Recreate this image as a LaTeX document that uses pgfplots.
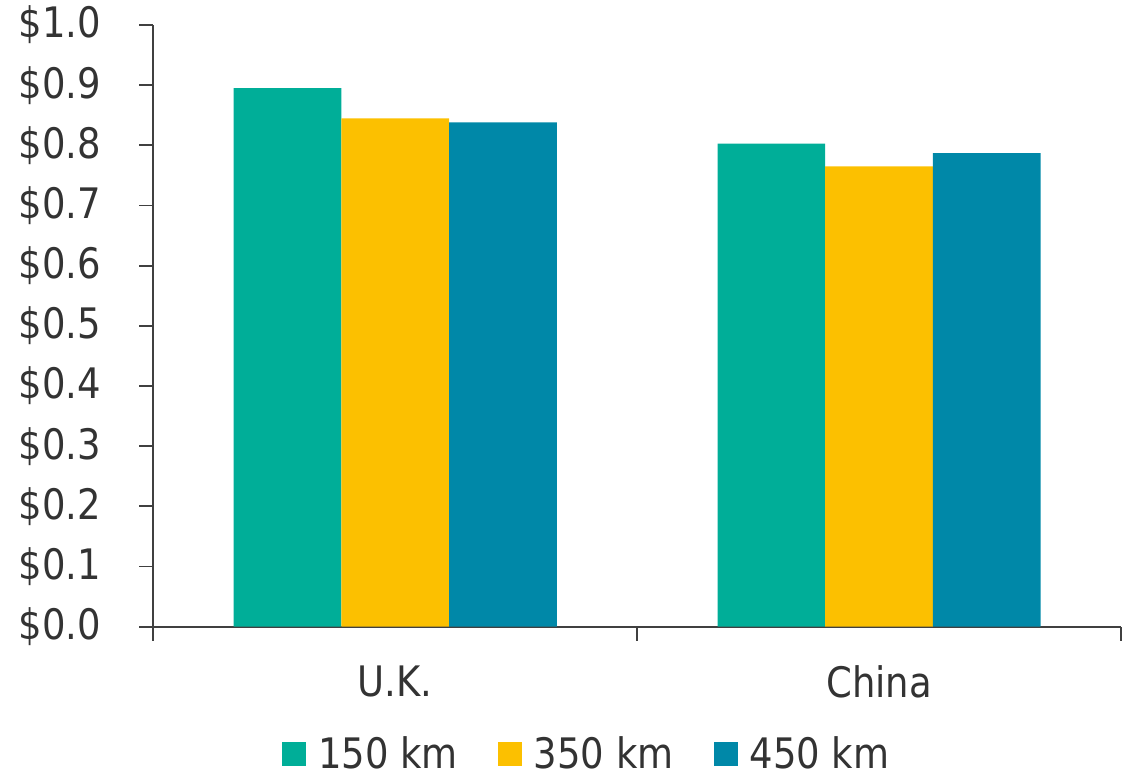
\documentclass[border=0pt]{standalone}
\usepackage{pgfplots}
\pgfplotsset{compat=1.18}
\usepackage{fontspec}
\setmainfont{DejaVu Sans}[FakeStretch=0.88]
\definecolor{cA}{HTML}{00AE98}
\definecolor{cB}{HTML}{FCC000}
\definecolor{cC}{HTML}{0088A8}
\definecolor{txt}{HTML}{333333}
\definecolor{axc}{HTML}{404040}
\newcommand{\chartfont}{\fontsize{21}{25}\selectfont}
\begin{document}
\begin{tikzpicture}
\path[use as bounding box] (-76.65pt,-75.15pt) rectangle (490.35pt,313.35pt);
\begin{axis}[
  at={(0pt,0pt)}, anchor=south west,
  scale only axis, width=483.85pt, height=300.85pt,
  xmin=-0.5, xmax=1.5, ymin=0, ymax=1,
  axis x line*=bottom, axis y line*=left,
  xtick={-0.5,0.5,1.5}, x tick label as interval, xticklabels={U.K.,China},
  ytick={0,0.1,0.2,0.3,0.4,0.5,0.6,0.7,0.8,0.9,1.0},
  yticklabels={\$0.0,\$0.1,\$0.2,\$0.3,\$0.4,\$0.5,\$0.6,\$0.7,\$0.8,\$0.9,\$1.0},
  tick align=outside, major tick length=7pt,
  tick style={axc, line width=0.9pt},
  axis line style={axc, line width=0.9pt},
  tick label style={font=\chartfont, text=txt},
  yticklabel style={xshift=-15.5pt},
  xticklabel style={yshift=-9pt},
  ybar=0pt, bar width=53.85pt,
  legend style={draw=none, legend columns=3, at={(0.449,-0.212)}, anchor=center,
    font=\chartfont, text=txt,
    /tikz/every odd column/.append style={column sep=4pt},
    /tikz/every even column/.append style={column sep=18pt}},
  legend image code/.code={\fill[#1] (0pt,-6pt) rectangle (12pt,6pt);},
]
\addplot[fill=cA, draw=none] coordinates {(0,0.895) (1,0.803)};
\addplot[fill=cB, draw=none] coordinates {(0,0.845) (1,0.765)};
\addplot[fill=cC, draw=none] coordinates {(0,0.838) (1,0.787)};
\legend{150 km,350 km,450 km}
\end{axis}
\end{tikzpicture}
\end{document}
